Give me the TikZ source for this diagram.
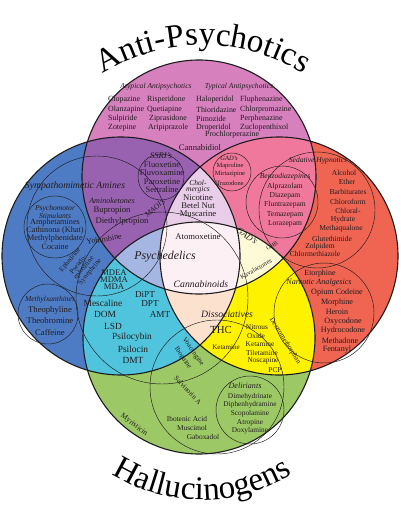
\documentclass[tikz,border=0pt]{standalone}
\usepackage{fontspec}
\setmainfont{Liberation Serif}
\usetikzlibrary{decorations.text}
\definecolor{cPink}{RGB}{214,128,190}
\definecolor{cBlue}{RGB}{78,124,196}
\definecolor{cRed}{RGB}{240,101,82}
\definecolor{cGreen}{RGB}{156,201,102}
\definecolor{cPB}{RGB}{152,98,177}
\definecolor{cPR}{RGB}{240,120,156}
\definecolor{cGB}{RGB}{79,196,220}
\definecolor{cGR}{RGB}{255,242,0}
\definecolor{cPBR}{RGB}{232,206,232}
\definecolor{cPGB}{RGB}{166,182,226}
\definecolor{cPGR}{RGB}{255,250,214}
\definecolor{cGBR}{RGB}{252,226,206}
\definecolor{cAll}{RGB}{252,240,245}
\definecolor{txt}{RGB}{35,28,32}
\definecolor{edge}{RGB}{30,28,30}
\newcommand\fsz[1]{\fontsize{\fpeval{1.08*#1}pt}{\fpeval{1.08*#1}pt}\selectfont}
\def\Pk{(199,177) circle (117pt)}
\def\Bl{(121,256) circle (119pt)}
\def\Rd{(279,256) circle (119pt)}
\def\Gr{(199,338) circle (116pt)}
\begin{document}
\begin{tikzpicture}[x=1pt,y=-1pt,
  every node/.style={inner sep=0pt,text=txt,font=\fsz{7.3}},
  it/.style={font=\fsz{#1}\itshape},
  rm/.style={font=\fsz{#1}},
  big/.style={draw=edge,line width=1.1pt},
  sub/.style={draw=edge,line width=0.45pt}]
\useasboundingbox (0,0) rectangle (400,516);
\fill[white] (0,0) rectangle (400,516);
% base fills
\fill[cPink] \Pk; \fill[cBlue] \Bl; \fill[cRed] \Rd; \fill[cGreen] \Gr;
\begin{scope}\clip \Pk; \fill[cPB] \Bl; \fill[cPR] \Rd; \end{scope}
\begin{scope}\clip \Gr; \fill[cGB] \Bl; \fill[cGR] \Rd; \end{scope}
\begin{scope}\clip \Pk; \clip \Bl; \fill[cPBR] \Rd; \end{scope}
\begin{scope}\clip \Gr; \clip \Bl; \fill[cGBR] \Rd; \end{scope}
\begin{scope}\clip \Pk; \clip \Gr; \fill[cPGB] \Bl; \fill[cPGR] \Rd; \end{scope}
\begin{scope}\clip \Pk; \clip \Gr; \clip \Bl; \fill[cAll] \Rd; \end{scope}
% sub circles
\path[sub] (161,177) circle (23pt);
\path[sub] (232,172) circle (19pt);
\path[sub] (282,202) circle (36pt);
\path[sub] (317,210) circle (58pt);
\path[sub] (55,227) circle (31pt);
\path[sub] (48,314) circle (30pt);
\path[sub] (250,410) circle (34pt);
\path[sub] (324,313) circle (50pt);
\path[sub] (97,226) circle (70pt);
\path[sub] (162,298) circle (86pt);
\path[sub] (217,387) circle (67pt);
% big outlines
\path[big] \Pk; \path[big] \Bl; \path[big] \Rd; \path[big] \Gr;
% titles
\path[decorate,decoration={text along path,text align=center,
  text={|\fontsize{33}{33}\selectfont|Anti-Psychotics}}]
  (57.5,112.9) arc[start angle=140,end angle=40,radius=190pt];
\path[decorate,decoration={text along path,text align=center,
  text={|\fontsize{33}{33}\selectfont|Hallucinogens}}]
  (62.7,427.5) arc[start angle=215,end angle=325,radius=170pt];
% pink
\node[it=7] (atyp) at (156,87) {Atypical Antipsychotics};
\node[it=7] (typ) at (239,87) {Typical Antipsychotics};
\node[anchor=west] (a1) at (108,100) {Clopazine};
\node[anchor=west] (a2) at (108,110) {Olanzapine};
\node[anchor=west] (a3) at (108,119) {Sulpiride};
\node[anchor=west] (a4) at (108,128) {Zotepine};
\node[anchor=west] (b1) at (147,100) {Risperidone};
\node[anchor=west] (b2) at (147,110) {Quetiapine};
\node[anchor=west] (b3) at (149,119) {Ziprasidone};
\node[anchor=west] (b4) at (148,128) {Aripiprazole};
\node[anchor=west] (c1) at (196,100) {Haloperidol};
\node[anchor=west] (c2) at (196,110) {Thioridazine};
\node[anchor=west] (c3) at (196,119) {Pimozide};
\node[anchor=west] (c4) at (196,128) {Droperidol};
\node[anchor=west] (d1) at (240,100) {Fluphenazine};
\node[anchor=west] (d2) at (240,110) {Chlorpromazine};
\node[anchor=west] (d3) at (240,119) {Perphenazine};
\node[anchor=west] (d4) at (240,128) {Zuclopenthixol};
\node[anchor=west] (d5) at (205,135) {Prochlorperazine};
\node[rm=8] (cbd) at (200,148) {Cannabidiol};
% SSRI
\node[it=8] (ssri) at (161,156) {SSRI's};
\node[rm=7.8] (s1) at (162,165) {Fluoxetine};
\node[rm=7.8] (s2) at (162,173) {Fluvoxamine};
\node[rm=7.8] (s3) at (162,182) {Paroxetine};
\node[rm=7.8] (s4) at (162,190) {Sertraline};
% chol
\node[it=7] (ch1) at (198,183) {Chol-};
\node[it=7] (ch2) at (198,190) {mergics};
\node[rm=8] (ch3) at (198,198) {Nicotine};
\node[rm=8] (ch4) at (198,206) {Betel Nut};
\node[rm=8] (ch5) at (198,214) {Muscarine};
% GAD top
\node[it=6] (g0) at (229,158) {GAD's};
\node[rm=6] (g1) at (230,166) {Maproline};
\node[rm=6] (g2) at (230,174) {Mirtazipine};
\node[rm=6] (g3) at (230,183) {Trazodone};
% benzo
\node[it=7] (bz0) at (285,177) {Benzodiazepines};
\node[rm=7] (bz1) at (285,187) {Alprazolam};
\node[rm=7] (bz2) at (285,196) {Diazepam};
\node[rm=7] (bz3) at (285,205) {Fluntrazepam};
\node[rm=7] (bz4) at (285,215) {Temazepam};
\node[rm=7] (bz5) at (285,224) {Lorazepam};
% sedative
\node[it=7] (sh0) at (318,161) {Sedative Hypnotics};
\node[rm=7] (sh1) at (344,173) {Alcohol};
\node[rm=7] (sh2) at (347,182) {Ether};
\node[rm=7] (sh3) at (348,192) {Barbiturates};
\node[rm=7] (sh4) at (348,202) {Chloroform};
\node[rm=7] (sh5) at (348,211) {Chloral-};
\node[rm=7] (sh6) at (343,220) {Hydrate};
\node[rm=7] (sh7) at (341,229) {Methaqualone};
\node[rm=7] (sh8) at (332,239) {Glutethimide};
\node[rm=7] (sh9) at (320,247) {Zolpidem};
\node[rm=7] (sh10) at (315,254) {Chlormethiazole};
% blue
\node[it=9] (sym) at (75,186) {Sympathomimetic Amines};
\node[it=7.5] (ak0) at (112,201) {Aminoketones};
\node[rm=8] (ak1) at (112,211) {Bupropion};
\node[rm=8] (ak2) at (122,221) {Diethylpropion};
\node[it=7,rotate=40] (maoi) at (155,208) {MAOI's};
\node[it=7] (ps0) at (55,209) {Psychomotor};
\node[it=7] (ps1) at (55,216) {Stimulants};
\node[rm=7.6] (ps2) at (55,223) {Amphetamines};
\node[rm=7.6] (ps3) at (55,231) {Cathinona (Khat)};
\node[rm=7.6] (ps4) at (55,239) {Methylphenidate};
\node[rm=7.6] (ps5) at (55,247) {Cocaine};
\node[rm=7.5,rotate=10] (yoh) at (104,239) {Yohimbine};
\node[rm=6.5,rotate=50] (ep1) at (70,260) {Ephedrine};
\node[rm=6.5,rotate=50] (ep2) at (78,264) {Pseudo-};
\node[rm=6.5,rotate=50] (ep3) at (84,268) {ephedrine};
\node[rm=6.5,rotate=50] (ep4) at (90,272) {Synephrine};
\node[it=7] (mx0) at (50,300) {Methylxanthines};
\node[rm=8] (mx1) at (50,310) {Theophyline};
\node[rm=8] (mx2) at (50,321) {Theobromine};
\node[rm=8] (mx3) at (50,332) {Caffeine};
% center
\node[it=11] (psy) at (165,257) {Psychedelics};
\node[rm=8] (ato) at (198,237) {Atomoxetine};
\node[it=9] (can) at (201,284) {Cannabinoids};
\node[it=8,rotate=-35] (gad) at (247,236) {GAD's};
\node[rm=5.5,rotate=30] (ghb) at (272,246) {GHB};
\node[rm=6,rotate=30] (kav) at (256,269) {Kavalactones};
% cyan
\node[rm=8] (md1) at (114,273) {MDEA};
\node[rm=8] (md2) at (114,280) {MDMA};
\node[rm=8] (md3) at (114,287) {MDA};
\node[rm=8.5] (t1) at (145,294) {DiPT};
\node[rm=8.5] (t2) at (150,304) {DPT};
\node[rm=8.5] (t3) at (160,314) {AMT};
\node[rm=8.7] (m1) at (103,303) {Mescaline};
\node[rm=8.7] (m2) at (105,314) {DOM};
\node[rm=8.7] (m3) at (113,326) {LSD};
\node[rm=8.7] (m4) at (132,337) {Psilocybin};
\node[rm=8.7] (m5) at (133,349) {Psilocin};
\node[rm=8.7] (m6) at (133,360) {DMT};
% yellow
\node[it=9] (dis) at (227,314) {Dissociatives};
\node[rm=10] (thc) at (221,330) {THC};
\node[rm=6.5] (ket0) at (226,347) {Ketamine};
\node[rm=6.8] (n1) at (257,327) {Nitrous};
\node[rm=6.8] (n2) at (256,336) {Oxide};
\node[rm=6.8] (n3) at (260,344) {Ketamine};
\node[rm=6.8] (n4) at (262,353) {Tiletamine};
\node[rm=6.8] (n5) at (263,361) {Noscapine};
\node[rm=6.8] (n6) at (275,370) {PCP};
\node[rm=6.5,rotate=-58] (dxm) at (285,341) {Dextromethorphan};
\node[rm=6.5,rotate=-55] (voa) at (193,352) {Voacangine};
\node[rm=6.5,rotate=-55] (ibo) at (183,358) {Ibogaine};
% green
\node[rm=6.5,rotate=-47] (sal) at (188,390) {Salvinorin A};
\node[rm=7,rotate=-37] (myr) at (134,425) {Myristicin};
\node[rm=6.8] (i1) at (187,419) {Ibotenic Acid};
\node[rm=6.8] (i2) at (192,428) {Muscimol};
\node[rm=6.8] (i3) at (203,437) {Gaboxadol};
\node[it=7.5] (de0) at (245,386) {Deliriants};
\node[rm=6.8] (de1) at (250,397) {Dimehydrinate};
\node[rm=6.8] (de2) at (250,405) {Diphenhydramine};
\node[rm=6.8] (de3) at (250,414) {Scopolamine};
\node[rm=6.8] (de4) at (250,423) {Atropine};
\node[rm=6.8] (de5) at (250,431) {Doxylamine};
% red
\node[rm=7.3] (na0) at (320,274) {Etorphine};
\node[it=7.5] (na1) at (319,283) {Narcotic Analgesics};
\node[rm=7.5] (na2) at (337,293) {Opium Codeine};
\node[rm=7.5] (na3) at (337,303) {Morphine};
\node[rm=7.5] (na4) at (337,312) {Heroin};
\node[rm=7.5] (na5) at (343,322) {Oxycodone};
\node[rm=7.5] (na6) at (343,331) {Hydrocodone};
\node[rm=7.5] (na7) at (340,341) {Methadone};
\node[rm=7.5] (na8) at (337,350) {Fentanyl};
\end{tikzpicture}
\end{document}
